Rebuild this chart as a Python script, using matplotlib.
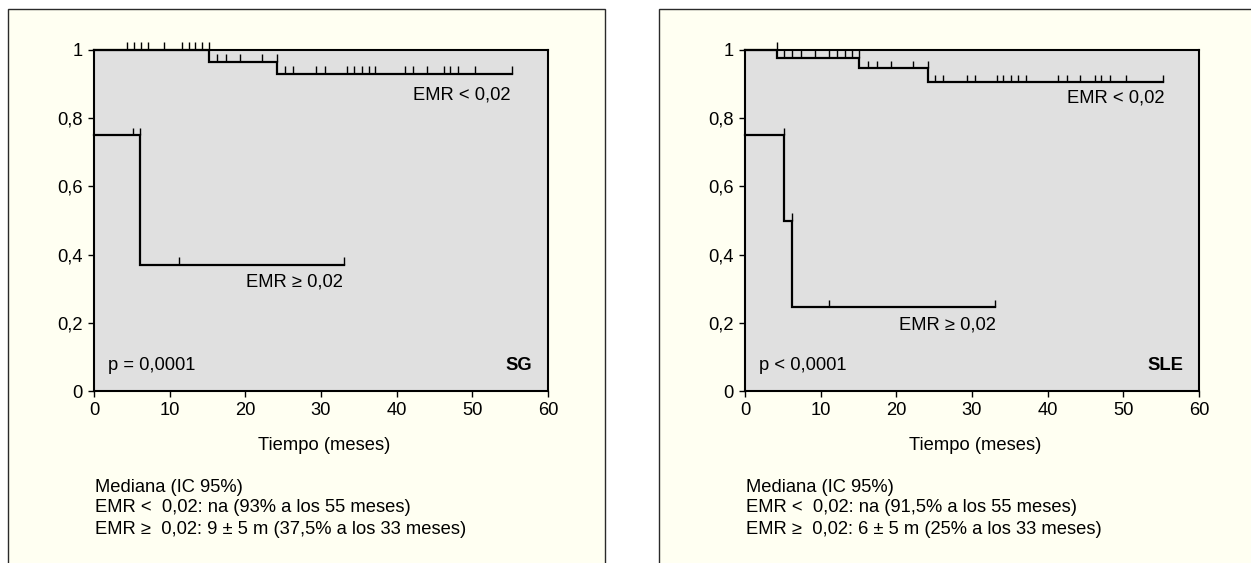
import numpy as np
import matplotlib
matplotlib.use("Agg")
import matplotlib.pyplot as plt
from matplotlib.patches import Rectangle

plt.rcParams['font.family'] = ['Liberation Sans', 'DejaVu Sans']

# ---------------- data ----------------
# Panel SG (left)
sg_low_steps = [15.2, 24.2]
sg_low_levels = [1.0, 0.966, 0.93]
sg_low_end = 55.3
sg_low_cens = [4.4, 5.3, 6.2, 7.2, 9.2, 11.6, 12.5, 13.3, 14.3, 15.2,
               16.3, 17.5, 19.3, 22.2, 24.2,
               25.2, 26.3, 29.4, 30.5, 33.4, 34.3, 35.4, 36.3, 37.1,
               41.1, 42.2, 44.0, 46.2, 47.0, 48.1, 50.4, 55.3]

sg_high_steps = [6.1]
sg_high_levels = [0.75, 0.37]
sg_high_end = 33.0
sg_high_cens = [5.2, 6.1, 11.2, 33.0]

# Panel SLE (right)
sle_low_steps = [4.2, 15.0, 24.2]
sle_low_levels = [1.0, 0.977, 0.946, 0.905]
sle_low_end = 55.3
sle_low_cens = [4.2, 5.2, 6.2, 7.4, 9.25, 11.1, 12.1, 13.2, 14.2, 15.0,
                16.2, 17.4, 19.3, 22.2, 24.2,
                25.1, 26.2, 29.3, 30.4, 33.3, 34.1, 35.2, 36.1, 37.2,
                41.4, 42.5, 44.3, 46.3, 47.1, 48.2, 50.4, 55.3]

sle_high_steps = [5.2, 6.2]
sle_high_levels = [0.75, 0.50, 0.245]
sle_high_end = 33.0
sle_high_cens = [5.2, 6.2, 11.1, 33.0]

x_ticks = [0, 10, 20, 30, 40, 50, 60]
y_ticks = [0, 0.2, 0.4, 0.6, 0.8, 1.0]
y_ticklabels = ["0", "0,2", "0,4", "0,6", "0,8", "1"]
x_label = "Tiempo (meses)"

panels = [
    dict(low=(sg_low_steps, sg_low_levels, sg_low_end, sg_low_cens),
         high=(sg_high_steps, sg_high_levels, sg_high_end, sg_high_cens),
         low_lbl=(55.0, 0.868), high_lbl=(32.9, 0.32),
         p="p = 0,0001", name="SG",
         notes=["Mediana (IC 95%)",
                "EMR <  0,02: na (93% a los 55 meses)",
                "EMR \u2265  0,02: 9 \u00b1 5 m (37,5% a los 33 meses)"]),
    dict(low=(sle_low_steps, sle_low_levels, sle_low_end, sle_low_cens),
         high=(sle_high_steps, sle_high_levels, sle_high_end, sle_high_cens),
         low_lbl=(55.4, 0.86), high_lbl=(33.2, 0.194),
         p="p < 0,0001", name="SLE",
         notes=["Mediana (IC 95%)",
                "EMR <  0,02: na (91,5% a los 55 meses)",
                "EMR \u2265  0,02: 6 \u00b1 5 m (25% a los 33 meses)"]),
]

# ---------------- figure ----------------
W, H = 1251, 563
fig = plt.figure(figsize=(W / 100, H / 100), dpi=100, facecolor="white")

FS = 13.2
cream = "#FFFFF2"
offsets = [0, 651]

def fx(px):
    return px / W

def fy(py):
    return 1 - py / H

for off, P in zip(offsets, panels):
    # panel background frame
    fig.patches.append(Rectangle((fx(8 + off), -0.05), fx(597 if off == 0 else 620),
                                 fy(9) + 0.05, transform=fig.transFigure,
                                 facecolor=cream, edgecolor="#2a2a2a", lw=1.0,
                                 zorder=-10))

    ax = fig.add_axes([fx(94 + off), fy(391), fx(454), (391 - 50) / H])
    ax.set_zorder(1)
    ax.set_facecolor("#E0E0E0")
    ax.set_xlim(0, 60)
    ax.set_ylim(0, 1)
    for s in ax.spines.values():
        s.set_linewidth(1.5)
        s.set_color("black")
    ax.set_xticks(x_ticks)
    ax.set_xticklabels([str(t) for t in x_ticks], fontsize=FS)
    ax.set_yticks(y_ticks)
    ax.set_yticklabels(y_ticklabels, fontsize=FS)
    ax.tick_params(direction="out", length=4.5, width=1.0, pad=3.5, colors="black")

    for key in ("low", "high"):
        steps, levels, end, cens = P[key]
        xs = [0] + list(steps) + [end]
        ys = list(levels) + [levels[-1]]
        ax.step(xs, ys, where="post", color="black", lw=1.6, zorder=3,
                clip_on=False, solid_joinstyle="miter")
        idx = np.searchsorted(np.asarray(steps), np.asarray(cens), side="left")
        cy = np.asarray(levels)[idx]
        ax.vlines(cens, cy, cy + 0.022, color="black", lw=1.0, zorder=3, clip_on=False)

    ax.text(*P["low_lbl"], "EMR < 0,02", ha="right", va="center", fontsize=FS)
    ax.text(*P["high_lbl"], "EMR \u2265 0,02", ha="right", va="center", fontsize=FS)
    ax.text(1.8, 0.076, P["p"], ha="left", va="center", fontsize=FS)
    ax.text(57.9, 0.076, P["name"], ha="right", va="center", fontsize=FS,
            fontweight="bold")

    fig.text(fx(324 + off), fy(446), x_label, ha="center", va="center", fontsize=FS)
    for i, line in enumerate(P["notes"]):
        fig.text(fx(95 + off), fy(487 + 21 * i), line, ha="left", va="center",
                 fontsize=FS)

fig.savefig("out.png", dpi=100, facecolor="white")
